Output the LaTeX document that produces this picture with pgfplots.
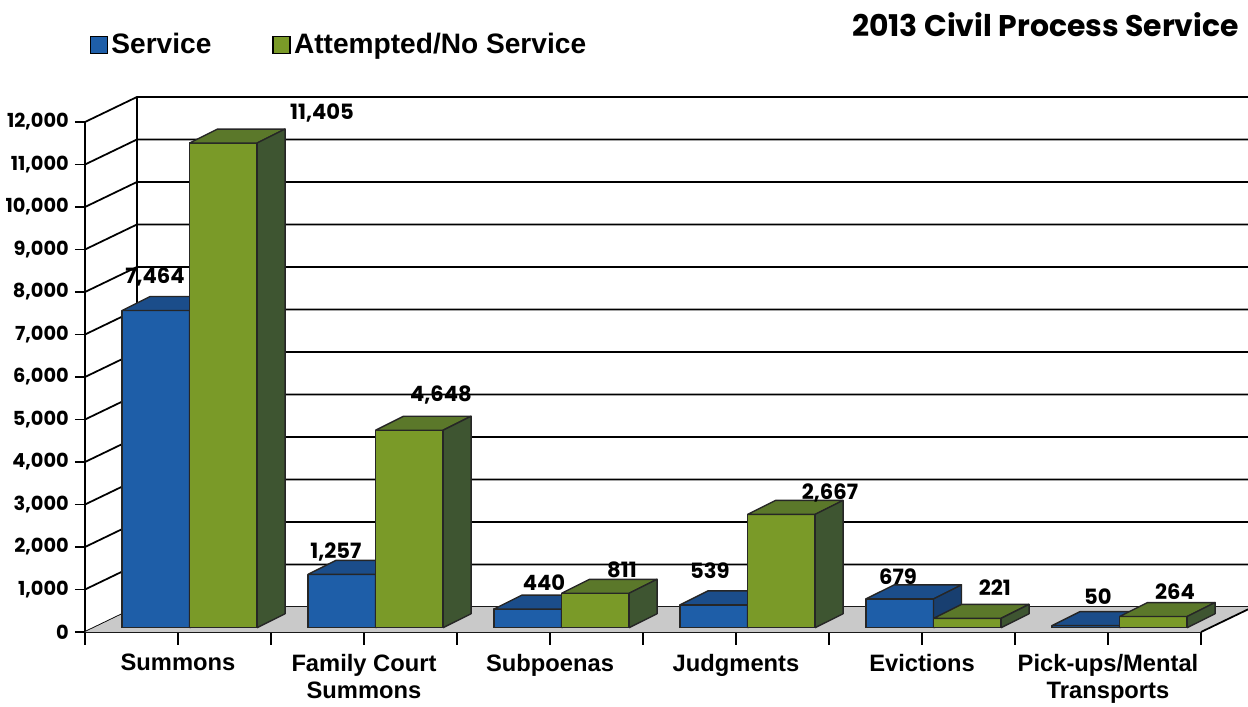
\documentclass[border=0pt]{standalone}
\usepackage{fontspec}
\setmainfont{Liberation Sans}
\newfontfamily\gothic{Poppins}
\usepackage{pgfplots}
\pgfplotsset{compat=1.18}

\definecolor{blueF}{HTML}{1E5EA8}
\definecolor{blueT}{HTML}{1B4D8A}
\definecolor{blueS}{HTML}{183F70}
\definecolor{greenF}{HTML}{7A9A28}
\definecolor{greenT}{HTML}{5B782A}
\definecolor{greenS}{HTML}{3E5531}
\definecolor{floorgray}{HTML}{C9C9C9}

\tikzset{
  barface/.style={mark=none, draw=black!85, line width=0.8pt, line join=round},
  gridline/.style={black, line width=1pt},
  lbl/.style={font=\gothic\bfseries\fontsize{12}{14}\selectfont, inner sep=0pt},
}

% geometry of the fake 3d (axis units)
\newcommand\bw{0.363}   % bar width
\newcommand\dpx{0.1505} % bar depth, x
\newcommand\dpy{329}    % bar depth, y
\newcommand\base{100}   % front face base
\newcommand\wdx{0.28}   % wall depth, x
\newcommand\wdy{590}    % wall depth, y

% #1 category, #2 series (0/1), #3 value, #4 colour prefix
\newcommand\tdbar[4]{%
  \pgfmathsetmacro\xa{#1+0.199+#2*\bw}%
  \pgfmathsetmacro\xb{\xa+\bw}%
  \pgfmathsetmacro\xc{\xa+\dpx}%
  \pgfmathsetmacro\xd{\xb+\dpx}%
  \pgfmathsetmacro\ya{\base}%
  \pgfmathsetmacro\yb{\base+#3}%
  \pgfmathsetmacro\yc{\base+#3+\dpy}%
  \pgfmathsetmacro\yd{\base+\dpy}%
  \edef\tmp{%
    \noexpand\addplot[forget plot, barface, fill=#4F] coordinates {(\xa,\ya) (\xb,\ya) (\xb,\yb) (\xa,\yb) (\xa,\ya)};
    \noexpand\addplot[forget plot, barface, fill=#4T] coordinates {(\xa,\yb) (\xb,\yb) (\xd,\yc) (\xc,\yc) (\xa,\yb)};
    \noexpand\addplot[forget plot, barface, fill=#4S] coordinates {(\xb,\ya) (\xd,\yd) (\xd,\yc) (\xb,\yb) (\xb,\ya)};
  }\tmp}

\begin{document}
\begin{tikzpicture}
\path[use as bounding box] (0,0) rectangle (24.96cm,14.14cm);
\begin{axis}[
  at={(1.7cm,1.5cm)}, anchor=south west,
  scale only axis, width=22.32cm, height=10.2cm,
  xmin=0, xmax=6, ymin=0, ymax=12000,
  clip=false,
  axis x line=bottom, axis y line=left,
  axis line style={-, line width=1pt, black},
  xtick={0,...,6}, xticklabels=\empty,
  ytick={0,1000,...,12000},
  tick align=outside,
  major tick length=0.2cm,
  xtick style={/pgfplots/major tick length=0.25cm},
  tick style={line width=1pt, black},
  scaled y ticks=false,
  yticklabel style={font=\gothic\bfseries\fontsize{11}{13}\selectfont,
    /pgf/number format/.cd, 1000 sep={,}, assume math mode=true},
  extra x ticks={0.5,1.5,...,5.5},
  extra x tick labels={Summons, {Family Court\\Summons}, Subpoenas, Judgments, Evictions, {Pick-ups/Mental\\Transports}},
  extra x tick style={major tick length=0pt,
    xticklabel style={align=center, yshift=-0.32cm,
      font=\bfseries\fontsize{13.5}{15.5}\selectfont}},
  legend style={at={(0.004,1.182)}, anchor=north west, draw=none, fill=none,
    legend columns=2, inner sep=0pt,
    font=\bfseries\fontsize{16}{19}\selectfont,
    /tikz/every even column/.append style={column sep=1.15cm}},
  legend image code/.code={\draw[#1, draw=black, line width=0.6pt] (0cm,-0.17cm) rectangle (0.34cm,0.17cm);},
]
% back wall and side wall grid
\pgfplotsinvokeforeach{0,1000,...,12000}{%
  \draw[gridline] (axis cs:0,#1) -- (axis cs:\wdx,#1+\wdy) -- (axis cs:6+\wdx,#1+\wdy);
}
\draw[gridline] (axis cs:\wdx,\wdy) -- (axis cs:\wdx,12000+\wdy);
% floor
\fill[floorgray] (axis cs:0,0) -- (axis cs:6,0) -- (axis cs:6+\wdx,\wdy) -- (axis cs:\wdx,\wdy) -- cycle;
\draw[gridline] (axis cs:6,0) -- (axis cs:6+\wdx,\wdy);

\addlegendimage{fill=blueF}
\addlegendentry{Service}
\addlegendimage{fill=greenF}
\addlegendentry{Attempted/No Service}

% Service / Attempted
\tdbar{0}{0}{7464}{blue}   \tdbar{0}{1}{11405}{green}
\tdbar{1}{0}{1257}{blue}   \tdbar{1}{1}{4648}{green}
\tdbar{2}{0}{440}{blue}    \tdbar{2}{1}{811}{green}
\tdbar{3}{0}{539}{blue}    \tdbar{3}{1}{2667}{green}
\tdbar{4}{0}{679}{blue}    \tdbar{4}{1}{221}{green}
\tdbar{5}{0}{50}{blue}     \tdbar{5}{1}{264}{green}

% value labels
\node[lbl] at (axis cs:0.376,8353) {7,464};
\node[lbl] at (axis cs:1.274,12212) {11,405};
\node[lbl] at (axis cs:1.349,1882) {1,257};
\node[lbl] at (axis cs:1.914,5576) {4,648};
\node[lbl] at (axis cs:2.468,1153) {440};
\node[lbl] at (axis cs:2.887,1459) {811};
\node[lbl] at (axis cs:3.360,1435) {539};
\node[lbl] at (axis cs:4.005,3271) {2,667};
\node[lbl] at (axis cs:4.371,1294) {679};
\node[lbl] at (axis cs:4.892,1035) {221};
\node[lbl] at (axis cs:5.446,824) {50};
\node[lbl] at (axis cs:5.860,941) {264};
\end{axis}
\node[anchor=base east, font=\gothic\bfseries\fontsize{17}{20}\selectfont] at (24.9cm,13.4cm) {2013 Civil Process Service};
\end{tikzpicture}
\end{document}
